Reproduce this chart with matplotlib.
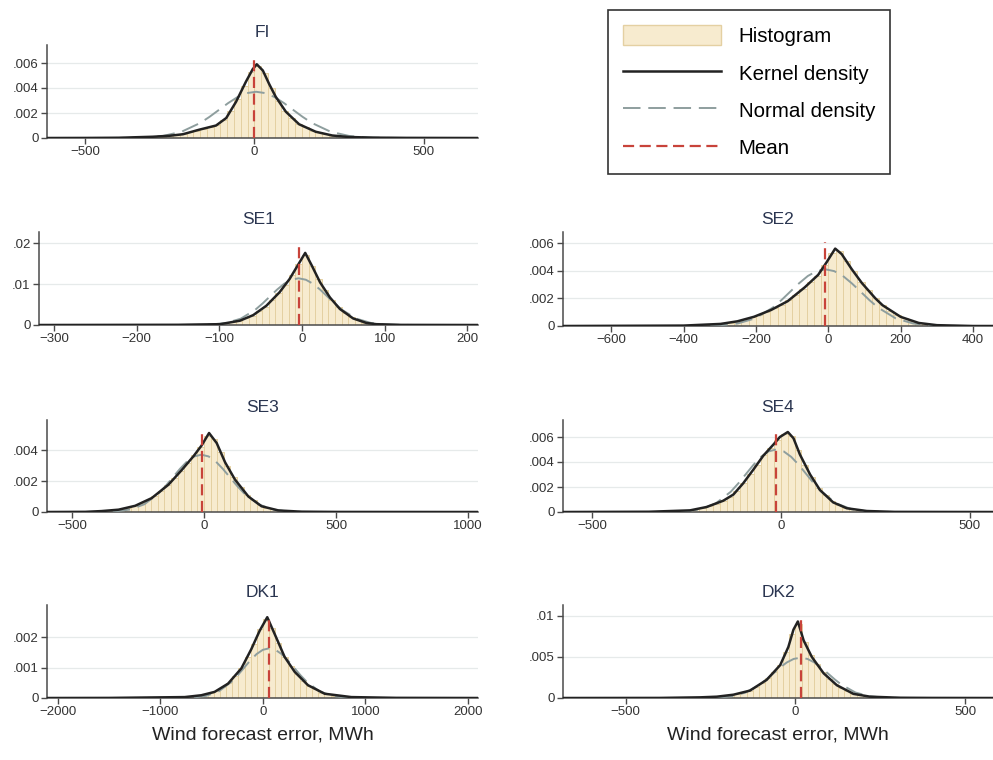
import numpy as np
import matplotlib
matplotlib.use("Agg")
import matplotlib.pyplot as plt
from matplotlib.patches import Patch
from matplotlib.lines import Line2D

plt.rcParams['font.family'] = ['Liberation Sans', 'DejaVu Sans']

# densities are in units of 1e-3
# ---------------- FI ----------------
fi_bin_start, fi_bin_w = -300, 20
fi_hist = [0.08, 0.12, 0.18, 0.25, 0.32, 0.45, 0.6, 0.75, 0.9, 1.05, 1.45, 2.2, 3.1, 4.2, 5.3,
           5.8, 5.2, 4.0, 3.0, 2.2, 1.6, 1.15, 0.85, 0.6, 0.45, 0.3, 0.2, 0.14, 0.1, 0.07]
fi_kx = [-610, -500, -400, -300, -250, -211, -162, -113, -83, -54, -25, -5, 7, 25, 44, 63, 93, 132,
         181, 230, 279, 350, 450, 660]
fi_ky = [0, 0.005, 0.02, 0.1, 0.18, 0.3, 0.67, 1.0, 1.6, 2.9, 4.5, 5.5, 5.9, 5.4, 4.3, 3.3, 2.1, 1.1,
         0.5, 0.2, 0.08, 0.03, 0.01, 0]
fi_nx = [-435, -380, -325, -270, -215, -160, -132.5, -105, -77.5, -50, -22.5, 5, 32.5, 60, 87.5,
         115, 142.5, 170, 225, 280, 335, 390, 445]
fi_ny = [0.001, 0.008, 0.041, 0.162, 0.50, 1.20, 1.69, 2.24, 2.79, 3.27, 3.59, 3.70, 3.59, 3.27,
         2.79, 2.24, 1.69, 1.20, 0.50, 0.162, 0.041, 0.008, 0.001]
fi_mean, fi_mean_top = 0, 6.5

# ---------------- SE1 ----------------
se1_bin_start, se1_bin_w = -120, 8
se1_hist = [0.1, 0.15, 0.2, 0.4, 0.7, 1.0, 1.6, 2.3, 3.4, 4.5, 6.2, 7.8, 9.8, 12.2, 15.0, 17.0,
            14.5, 11.2, 8.5, 6.2, 4.3, 2.9, 1.9, 1.2, 0.6, 0.35, 0.18, 0.1]
se1_kx = [-318, -150, -99, -75, -59, -43, -27, -15, -4, 4, 12, 22, 34, 46, 62, 78, 90, 120, 213]
se1_ky = [0, 0.05, 0.2, 1.05, 2.4, 4.7, 8.0, 11.2, 14.9, 17.6, 14.5, 10.4, 6.7, 3.9, 1.6, 0.5,
          0.2, 0.03, 0]
se1_nx = [-144, -126.5, -109, -91.5, -74, -56.5, -47.75, -39, -30.25, -21.5, -12.75, -4, 4.75,
          13.5, 22.25, 31, 39.75, 48.5, 66, 83.5, 101, 118.5, 136]
se1_ny = [0.003, 0.025, 0.127, 0.50, 1.54, 3.70, 5.22, 6.91, 8.60, 10.06, 11.05, 11.4, 11.05,
          10.06, 8.60, 6.91, 5.22, 3.70, 1.54, 0.50, 0.127, 0.025, 0.003]
se1_mean, se1_mean_top = -4, 20.2

# ---------------- SE2 ----------------
se2_bin_start, se2_bin_w = -340, 20
se2_hist = [0.08, 0.12, 0.17, 0.25, 0.35, 0.48, 0.63, 0.82, 1.03, 1.27, 1.52, 1.85, 2.25, 2.7,
            3.15, 3.65, 4.4, 5.3, 5.4, 4.7, 3.95, 3.2, 2.6, 2.0, 1.5, 1.1, 0.78, 0.55, 0.38, 0.22,
            0.13, 0.08]
se2_kx = [-733, -400, -298, -251, -205, -158, -112, -65, -28, -5, 19, 37, 65, 93, 130, 150, 200,
          250, 300, 400, 455]
se2_ky = [0, 0.03, 0.15, 0.34, 0.67, 1.16, 1.8, 2.8, 3.7, 4.6, 5.6, 5.2, 4.1, 3.1, 2.0, 1.5, 0.66,
          0.22, 0.06, 0.0, 0]
se2_nx = [-396, -347.5, -299, -250.5, -202, -153.5, -129.25, -105, -80.75, -56.5, -32.25, -8,
          16.25, 40.5, 64.75, 89, 113.25, 137.5, 186, 234.5, 283, 331.5, 380]
se2_ny = [0.001, 0.009, 0.046, 0.18, 0.555, 1.33, 1.88, 2.49, 3.09, 3.62, 3.97, 4.1, 3.97, 3.62,
          3.09, 2.49, 1.88, 1.33, 0.555, 0.18, 0.046, 0.009, 0.001]
se2_mean, se2_mean_top = -8, 6.1

# ---------------- SE3 ----------------
se3_bin_start, se3_bin_w = -400, 25
se3_hist = [0.06, 0.1, 0.13, 0.19, 0.28, 0.4, 0.58, 0.78, 1.02, 1.37, 1.72, 2.2, 2.65, 3.15, 3.65,
            4.2, 4.9, 4.7, 3.9, 3.0, 2.25, 1.6, 1.1, 0.78, 0.45, 0.28, 0.17, 0.1, 0.06, 0.04]
se3_kx = [-595, -450, -388, -324, -261, -198, -135, -85, -40, -9, 19, 48, 80, 117, 168, 218, 282,
          370, 500, 1038]
se3_ky = [0, 0.01, 0.06, 0.15, 0.4, 0.9, 1.76, 2.7, 3.6, 4.3, 5.1, 4.45, 3.2, 2.1, 1.0, 0.37, 0.1,
          0.02, 0.005, 0]
se3_nx = [-442, -388, -334, -280, -226, -172, -145, -118, -91, -64, -37, -10, 17, 44, 71, 98, 125,
          152, 206, 260, 314, 368, 422]
se3_ny = [0.001, 0.008, 0.041, 0.162, 0.50, 1.20, 1.69, 2.24, 2.79, 3.27, 3.59, 3.70, 3.59, 3.27,
          2.79, 2.24, 1.69, 1.20, 0.50, 0.162, 0.041, 0.008, 0.001]
se3_mean, se3_mean_top = -8, 5.35

# ---------------- SE4 ----------------
se4_bin_start, se4_bin_w = -270, 18
se4_hist = [0.09, 0.13, 0.22, 0.33, 0.48, 0.68, 0.9, 1.2, 1.7, 2.35, 3.05, 3.8, 4.55, 5.15, 5.8,
            6.25, 6.1, 5.0, 3.8, 2.8, 1.95, 1.35, 0.85, 0.55, 0.33, 0.22, 0.14, 0.09, 0.05]
se4_kx = [-577, -350, -241, -197, -153, -126, -100, -73, -47, -20, -3, 18, 33, 50, 77, 103, 138,
          174, 227, 300, 561]
se4_ky = [0, 0.02, 0.13, 0.4, 0.9, 1.4, 2.3, 3.4, 4.5, 5.4, 6.0, 6.4, 5.9, 4.6, 3.0, 1.76, 0.77,
          0.3, 0.08, 0.01, 0]
se4_nx = [-333, -293, -253, -213, -173, -133, -113, -93, -73, -53, -33, -13, 7, 27, 47, 67, 87,
          107, 147, 187, 227, 267, 307]
se4_ny = [0.0015, 0.011, 0.056, 0.22, 0.68, 1.62, 2.29, 3.03, 3.77, 4.41, 4.85, 5.0, 4.85, 4.41,
          3.77, 3.03, 2.29, 1.62, 0.68, 0.22, 0.056, 0.011, 0.0015]
se4_mean, se4_mean_top = -13, 6.4

# ---------------- DK1 ----------------
dk1_bin_start, dk1_bin_w = -900, 60
dk1_hist = [0.02, 0.03, 0.04, 0.06, 0.08, 0.11, 0.16, 0.23, 0.35, 0.5, 0.72, 0.98, 1.35, 1.78,
            2.25, 2.6, 2.3, 1.8, 1.35, 1.05, 0.78, 0.57, 0.4, 0.28, 0.18, 0.12, 0.08, 0.06, 0.04,
            0.03]
dk1_kx = [-2107, -1500, -764, -602, -472, -341, -211, -114, -33, 42, 114, 211, 309, 439, 602, 862,
          1300, 2098]
dk1_ky = [0, 0.003, 0.03, 0.09, 0.2, 0.47, 0.97, 1.6, 2.2, 2.65, 2.1, 1.35, 0.86, 0.42, 0.14,
          0.03, 0.005, 0]
dk1_nx = [-920, -797.5, -675, -552.5, -430, -307.5, -246.25, -185, -123.75, -62.5, -1.25, 60,
          121.25, 182.5, 243.75, 305, 366.25, 427.5, 550, 672.5, 795, 917.5, 1040]
dk1_ny = [0.0005, 0.0036, 0.018, 0.072, 0.22, 0.53, 0.746, 0.989, 1.23, 1.44, 1.58, 1.63, 1.58,
          1.44, 1.23, 0.989, 0.746, 0.53, 0.22, 0.072, 0.018, 0.0036, 0.0005]
dk1_mean, dk1_mean_top = 62, 2.7

# ---------------- DK2 ----------------
dk2_bin_start, dk2_bin_w = -270, 18
dk2_hist = [0.1, 0.13, 0.18, 0.27, 0.37, 0.5, 0.7, 0.9, 1.3, 1.8, 2.4, 3.2, 4.0, 5.6, 7.8, 9.0,
            6.8, 5.2, 4.1, 3.1, 2.3, 1.7, 1.2, 0.8, 0.5, 0.35, 0.22, 0.14, 0.09, 0.06]
dk2_kx = [-685, -400, -281, -232, -183, -134, -85, -45, -21, -6, 7, 24, 48, 83, 122, 171, 220,
          309, 400, 582]
dk2_ky = [0, 0.01, 0.08, 0.16, 0.4, 0.9, 2.2, 4.0, 6.2, 8.3, 9.3, 7.0, 5.0, 3.0, 1.55, 0.5, 0.16,
          0.03, 0.01, 0]
dk2_nx = [-309, -268.5, -228, -187.5, -147, -106.5, -86.25, -66, -45.75, -25.5, -5.25, 15, 35.25,
          55.5, 75.75, 96, 116.25, 136.5, 177, 217.5, 258, 298.5, 339]
dk2_ny = [0.0015, 0.011, 0.054, 0.215, 0.663, 1.59, 2.24, 2.97, 3.70, 4.32, 4.75, 4.9, 4.75, 4.32,
          3.70, 2.97, 2.24, 1.59, 0.663, 0.215, 0.054, 0.011, 0.0015]
dk2_mean, dk2_mean_top = 15, 9.95

# axis ticks / limits
panels = [
    dict(name='FI', start=fi_bin_start, w=fi_bin_w, hist=fi_hist, kx=fi_kx, ky=fi_ky, nx=fi_nx,
         ny=fi_ny, mean=fi_mean, mtop=fi_mean_top, xlim=(-612, 660), ytop=7.44,
         xt=[-500, 0, 500], yt=[0, 2, 4, 6], ylab=['0', '.002', '.004', '.006'],
         pos=(47, 478, 45, 138)),
    dict(name='SE1', start=se1_bin_start, w=se1_bin_w, hist=se1_hist, kx=se1_kx, ky=se1_ky,
         nx=se1_nx, ny=se1_ny, mean=se1_mean, mtop=se1_mean_top, xlim=(-318, 213), ytop=22.7,
         xt=[-300, -200, -100, 0, 100, 200], yt=[0, 10, 20], ylab=['0', '.01', '.02'],
         pos=(39, 478, 232, 325)),
    dict(name='SE2', start=se2_bin_start, w=se2_bin_w, hist=se2_hist, kx=se2_kx, ky=se2_ky,
         nx=se2_nx, ny=se2_ny, mean=se2_mean, mtop=se2_mean_top, xlim=(-733, 455), ytop=6.8,
         xt=[-600, -400, -200, 0, 200, 400], yt=[0, 2, 4, 6], ylab=['0', '.002', '.004', '.006'],
         pos=(563, 993, 232, 326)),
    dict(name='SE3', start=se3_bin_start, w=se3_bin_w, hist=se3_hist, kx=se3_kx, ky=se3_ky,
         nx=se3_nx, ny=se3_ny, mean=se3_mean, mtop=se3_mean_top, xlim=(-595, 1038), ytop=5.94,
         xt=[-500, 0, 500, 1000], yt=[0, 2, 4], ylab=['0', '.002', '.004'],
         pos=(47, 478, 420, 512)),
    dict(name='SE4', start=se4_bin_start, w=se4_bin_w, hist=se4_hist, kx=se4_kx, ky=se4_ky,
         nx=se4_nx, ny=se4_ny, mean=se4_mean, mtop=se4_mean_top, xlim=(-577, 561), ytop=7.36,
         xt=[-500, 0, 500], yt=[0, 2, 4, 6], ylab=['0', '.002', '.004', '.006'],
         pos=(563, 993, 420, 512)),
    dict(name='DK1', start=dk1_bin_start, w=dk1_bin_w, hist=dk1_hist, kx=dk1_kx, ky=dk1_ky,
         nx=dk1_nx, ny=dk1_ny, mean=dk1_mean, mtop=dk1_mean_top, xlim=(-2107, 2098), ytop=3.05,
         xt=[-2000, -1000, 0, 1000, 2000], yt=[0, 1, 2], ylab=['0', '.001', '.002'],
         pos=(47, 478, 605, 698)),
    dict(name='DK2', start=dk2_bin_start, w=dk2_bin_w, hist=dk2_hist, kx=dk2_kx, ky=dk2_ky,
         nx=dk2_nx, ny=dk2_ny, mean=dk2_mean, mtop=dk2_mean_top, xlim=(-685, 582), ytop=11.3,
         xt=[-500, 0, 500], yt=[0, 5, 10], ylab=['0', '.005', '.01'],
         pos=(563, 993, 605, 698)),
]

W, H = 993, 760
hist_fill = '#f7ebcf'
hist_edge = '#e4d0a2'
kern_col = '#222222'
norm_col = '#8e9e9e'
mean_col = '#c8433a'
axis_col = '#4a4a4a'
title_col = '#2a3550'

fig = plt.figure(figsize=(9.93, 7.6), dpi=100)

for p in panels:
    l, r, t, b = p['pos']
    ax = fig.add_axes([l / W, 1 - b / H, (r - l) / W, (b - t) / H])
    edges = np.arange(len(p['hist'])) * p['w'] + p['start']
    ax.bar(edges, p['hist'], width=p['w'], align='edge', color=hist_fill,
           edgecolor=hist_edge, linewidth=0.7, zorder=2)
    ax.plot(p['nx'], p['ny'], color=norm_col, lw=1.4, dashes=(9, 4), zorder=3)
    ax.plot(p['kx'], p['ky'], color=kern_col, lw=1.8, zorder=4)
    ax.plot([p['mean'], p['mean']], [0, p['mtop']], color=mean_col, lw=1.6,
            dashes=(5, 2.5), zorder=5)

    ax.set_xlim(*p['xlim'])
    ax.set_ylim(0, p['ytop'])
    ax.set_xticks(p['xt'])
    ax.set_xticklabels([str(v).replace('-', '\u2212') for v in p['xt']])
    ax.set_yticks(p['yt'])
    ax.set_yticklabels(p['ylab'])
    ax.grid(axis='y', color='#e6eaea', lw=0.9, zorder=0)
    ax.set_axisbelow(True)
    for s in ['top', 'right']:
        ax.spines[s].set_visible(False)
    for s in ['left', 'bottom']:
        ax.spines[s].set_color(axis_col)
        ax.spines[s].set_linewidth(1.1)
    ax.tick_params(axis='both', colors=axis_col, labelcolor='#333333', labelsize=9.5,
                   length=4, width=1.0, pad=2)
    ax.set_title(p['name'], fontsize=12.5, color=title_col, pad=6)
    if p['name'] in ('DK1', 'DK2'):
        ax.set_xlabel('Wind forecast error, MWh', fontsize=14, color='#222222', labelpad=6)

handles = [
    Patch(facecolor=hist_fill, edgecolor=hist_edge, linewidth=1.0),
    Line2D([], [], color=kern_col, lw=1.8),
    Line2D([], [], color=norm_col, lw=1.4, dashes=(9, 4)),
    Line2D([], [], color=mean_col, lw=1.6, dashes=(5, 2.5)),
]
labels = ['Histogram', 'Kernel density', 'Normal density', 'Mean']
leg = fig.legend(handles, labels, loc='upper left', bbox_to_anchor=(608 / W, 1 - 10 / H),
                 borderaxespad=0, fontsize=14.8, handlelength=4.75, handleheight=1.1,
                 labelspacing=0.8, borderpad=0.75, handletextpad=0.85, fancybox=False,
                 framealpha=1)
leg.get_frame().set_edgecolor('#333333')
leg.get_frame().set_linewidth(1.2)

fig.savefig('out.png', dpi=100)
